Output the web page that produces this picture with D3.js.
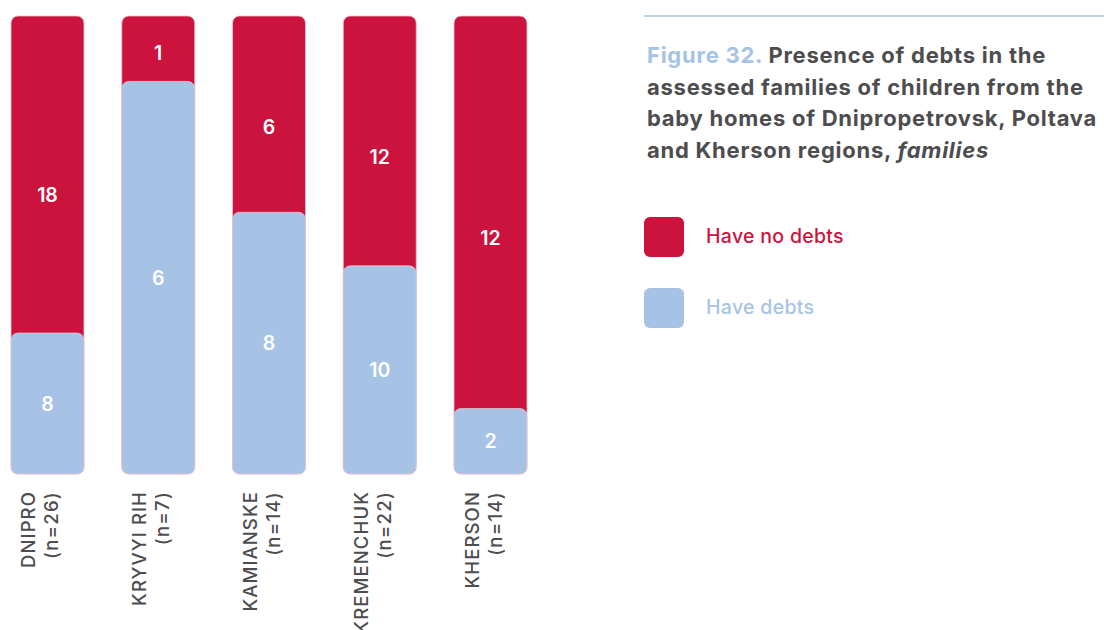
<!DOCTYPE html>
<html>
<head>
<meta charset="utf-8">
<script src="https://cdn.jsdelivr.net/npm/d3@7"></script>
<style>
  body { margin: 0; background: #fff; }
  svg { display: block; font-family: Inter, "Open Sans", sans-serif; }
</style>
</head>
<body>
<svg id="chart" width="1104" height="630"></svg>
<script>
// data
const regions = ["DNIPRO", "KRYVYI RIH", "KAMIANSKE", "KREMENCHUK", "KHERSON"];
const sampleSizes = [26, 7, 14, 22, 14];
const haveDebts = [8, 6, 8, 10, 2];
const haveNoDebts = [18, 1, 6, 12, 12];
const seriesNames = ["Have no debts", "Have debts"];
const titleLines = [
  ["Figure 32. ", "Presence of debts in the"],
  ["", "assessed families of children from the"],
  ["", "baby homes of Dnipropetrovsk, Poltava"],
  ["", "and Kherson regions, ", "families"]
];

const RED = "#cc133d";
const BLUE = "#a6c3e6";
const GREY = "#4d4d4f";

const rows = regions.map((r, i) => ({
  region: r, n: sampleSizes[i], debts: haveDebts[i], noDebts: haveNoDebts[i]
}));

const stack = d3.stack().keys(["debts", "noDebts"]).offset(d3.stackOffsetExpand);
const layers = stack(rows);

const svg = d3.select("#chart");

const x = d3.scaleBand().domain(regions).range([11, 527]).paddingInner(0.341);
const y = d3.scaleLinear().domain([0, 1]).range([474, 16]);

const color = d3.scaleOrdinal().domain(["noDebts", "debts"]).range([RED, BLUE]);

// red bars first (drawn down to the baseline), blue on top
const order = [layers[1], layers[0]];
svg.append("g")
  .selectAll("g")
  .data(order)
  .enter()
  .append("g")
  .attr("fill", d => color(d.key))
  .selectAll("rect")
  .data(d => d)
  .enter()
  .append("rect")
  .attr("x", d => x(d.data.region))
  .attr("width", x.bandwidth())
  .attr("y", d => y(d[1]))
  .attr("height", d => y(0) - y(d[1]))
  .attr("rx", 7)
  .attr("stroke", "#e9c3d3")
  .attr("stroke-width", 0.8);

// value labels
layers.forEach(layer => {
  svg.append("g")
    .selectAll("text")
    .data(layer)
    .enter()
    .append("text")
    .attr("x", d => x(d.data.region) + x.bandwidth() / 2)
    .attr("y", d => {
      let top = y(d[1]), bot = y(d[0]);
      if (layer.key == "noDebts") return top + (bot - top) * 0.565;
      return (top + bot) / 2;
    })
    .attr("dy", "0.36em")
    .attr("text-anchor", "middle")
    .attr("fill", "#fff")
    .attr("font-size", 19.5)
    .attr("font-weight", 600)
    .text(d => d.data[layer.key]);
});

// category labels, rotated
const labels = svg.append("g")
  .selectAll("g")
  .data(rows)
  .enter()
  .append("g")
  .attr("transform", d => `translate(${x(d.region) + x.bandwidth() / 2},491) rotate(-90)`);

labels.append("text")
  .attr("y", -12)
  .attr("text-anchor", "end")
  .attr("fill", GREY)
  .attr("font-size", 18.5)
  .attr("font-weight", 500)
  .attr("letter-spacing", 1.1)
  .text(d => d.region);

labels.append("text")
  .attr("y", 11)
  .attr("text-anchor", "end")
  .attr("fill", GREY)
  .attr("font-size", 18.5)
  .attr("font-weight", 500)
  .attr("letter-spacing", 1.3)
  .text(d => `(n=${d.n})`);

// title block
svg.append("line")
  .attr("x1", 644).attr("x2", 1104)
  .attr("y1", 16).attr("y2", 16)
  .attr("stroke", "#bcd3ee")
  .attr("stroke-width", 2);

const title = svg.append("text")
  .attr("x", 647)
  .attr("font-size", 22)
  .attr("font-weight", 700)
  .attr("letter-spacing", 0.75)
  .attr("fill", GREY);

titleLines.forEach((parts, i) => {
  parts.forEach((p, j) => {
    if (!p) return;
    let t = title.append("tspan");
    if (j == 0 || (j == 1 && !parts[0])) t.attr("x", 647).attr("y", 63 + i * 31.5);
    if (i == 0 && j == 0) t.attr("fill", BLUE);
    if (j == 2) t.attr("font-style", "italic");
    t.text(p);
  });
});

// legend
const legend = svg.append("g")
  .selectAll("g")
  .data(["noDebts", "debts"])
  .enter()
  .append("g")
  .attr("transform", (d, i) => `translate(644,${217 + i * 71})`);

legend.append("rect")
  .attr("width", 40)
  .attr("height", 40)
  .attr("rx", 6)
  .attr("fill", d => color(d));

legend.append("text")
  .attr("x", 62)
  .attr("y", 19)
  .attr("dy", "0.36em")
  .attr("font-size", 19.5)
  .attr("font-weight", 500)
  .attr("letter-spacing", 0.3)
  .attr("fill", d => color(d))
  .text((d, i) => seriesNames[i]);
</script>
</body>
</html>
